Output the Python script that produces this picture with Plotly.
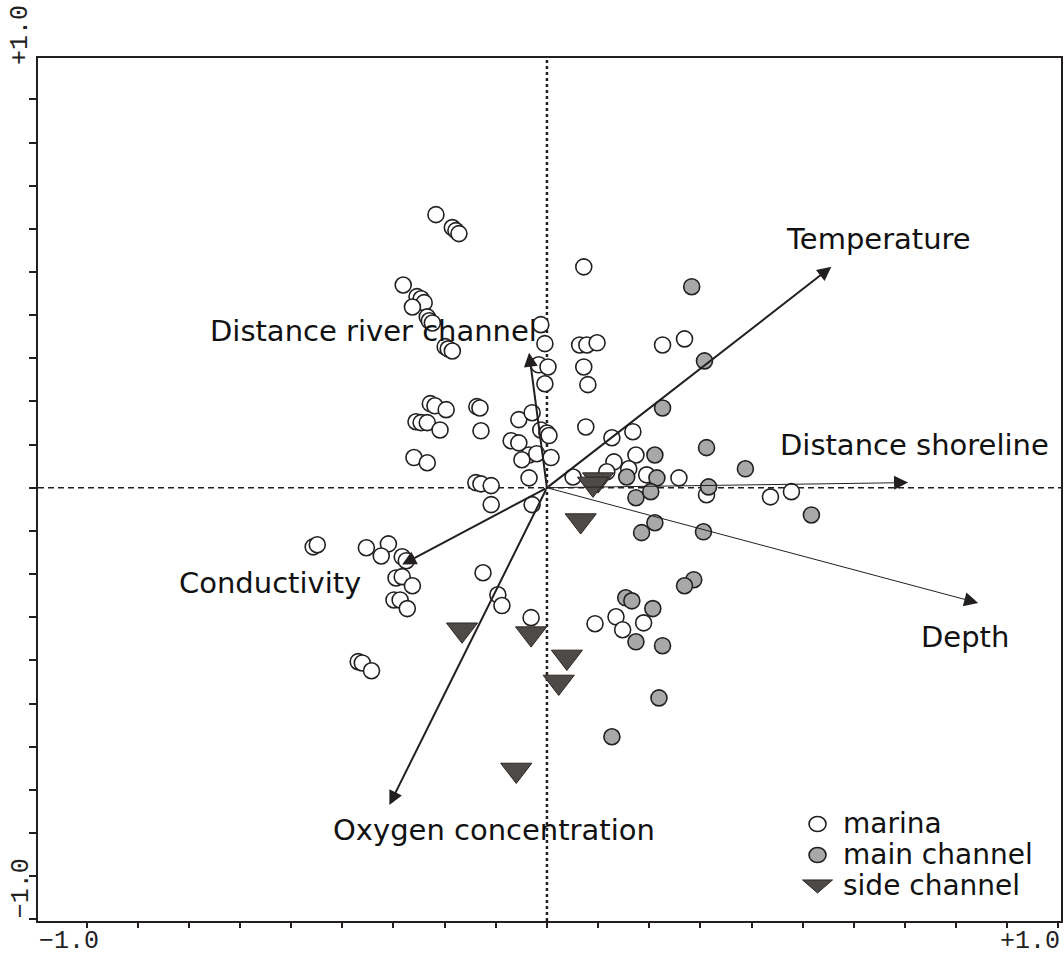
import plotly.graph_objects as go

# ---------------- data (ordination scores) ----------------
marina_x = [-0.217, -0.185, -0.178, -0.172, -0.281, -0.254, -0.246, -0.240, -0.263, -0.234,
            -0.230, -0.224, -0.199, -0.193, -0.185, -0.012, -0.004, -0.016, 0.002, -0.004,
            0.072, 0.064, 0.078, 0.098, 0.226, 0.269, 0.072, 0.080, -0.228, -0.219,
            -0.197, -0.256, -0.246, -0.234, -0.209, -0.137, -0.131, -0.129, -0.260, -0.234,
            -0.055, -0.029, -0.012, 0.000, 0.004, -0.070, -0.055, -0.035, -0.020, 0.008,
            -0.049, 0.076, 0.127, 0.168, 0.174, 0.131, 0.160, 0.117, 0.051, -0.035,
            -0.139, -0.129, -0.109, -0.109, -0.029, 0.195, 0.258, 0.312, 0.437, 0.478,
            0.135, 0.094, 0.148, 0.189, -0.457, -0.449, -0.353, -0.310, -0.324, -0.283,
            -0.275, -0.295, -0.283, -0.263, -0.299, -0.287, -0.273, -0.125, -0.096, -0.088,
            -0.031, -0.369, -0.361, -0.343]
marina_y = [0.633, 0.603, 0.596, 0.589, 0.470, 0.443, 0.438, 0.429, 0.419, 0.396,
            0.387, 0.382, 0.327, 0.322, 0.317, 0.378, 0.334, 0.285, 0.280, 0.241,
            0.512, 0.331, 0.331, 0.336, 0.331, 0.345, 0.280, 0.239, 0.195, 0.190,
            0.181, 0.153, 0.151, 0.151, 0.134, 0.188, 0.185, 0.132, 0.070, 0.058,
            0.158, 0.174, 0.134, 0.127, 0.121, 0.109, 0.104, 0.076, 0.079, 0.070,
            0.065, 0.141, 0.116, 0.130, 0.076, 0.060, 0.044, 0.037, 0.025, 0.023,
            0.012, 0.009, 0.005, -0.039, -0.039, 0.030, 0.023, -0.016, -0.021, -0.009,
            -0.299, -0.315, -0.329, -0.313, -0.137, -0.132, -0.139, -0.130, -0.158, -0.160,
            -0.169, -0.209, -0.206, -0.227, -0.260, -0.260, -0.280, -0.197, -0.248, -0.273,
            -0.301, -0.403, -0.406, -0.424]

main_x = [0.283, 0.308, 0.226, 0.312, 0.211, 0.388, 0.156, 0.215, 0.316, 0.174,
          0.203, 0.517, 0.211, 0.185, 0.306, 0.287, 0.269, 0.154, 0.166, 0.207,
          0.174, 0.226, 0.219, 0.127]
main_y = [0.466, 0.294, 0.185, 0.093, 0.076, 0.044, 0.025, 0.023, 0.002, -0.023,
          -0.009, -0.063, -0.081, -0.104, -0.102, -0.213, -0.227, -0.255, -0.262, -0.280,
          -0.357, -0.366, -0.487, -0.577]

side_x = [0.100, 0.090, 0.066, -0.166, -0.031, 0.039, 0.023, -0.060]
side_y = [0.019, 0.009, -0.076, -0.329, -0.338, -0.392, -0.450, -0.654]

# environmental variables (arrow tips)
env_names = ["Temperature", "Distance shoreline", "Depth", "Oxygen concentration",
             "Conductivity", "Distance river channel"]
env_x = [0.556, 0.706, 0.843, -0.308, -0.283, -0.035]
env_y = [0.512, 0.012, -0.267, -0.735, -0.178, 0.313]
env_width = [2, 1, 1, 2, 2, 2]
# label anchor positions
lab_x = [0.648, 0.718, 0.818, -0.103, -0.542, -0.340]
lab_y = [0.577, 0.100, -0.345, -0.793, -0.220, 0.364]

group_names = ["marina", "main channel", "side channel"]
axis_end_labels = ["\u22121.0", "+1.0"]

INK = "#231f20"
WHITE_FILL = "white"
GREY_FILL = "#a8a8a8"
DARK_FILL = "#4d4a48"

fig = go.Figure()
fig.add_trace(go.Scatter(x=marina_x, y=marina_y, mode="markers", name=group_names[0],
                         showlegend=False,
                         marker=dict(symbol="circle", size=16, color=WHITE_FILL,
                                     line=dict(color=INK, width=1.6))))
fig.add_trace(go.Scatter(x=main_x, y=main_y, mode="markers", name=group_names[1],
                         showlegend=False,
                         marker=dict(symbol="circle", size=16, color=GREY_FILL,
                                     line=dict(color=INK, width=1.6))))
fig.add_trace(go.Scatter(x=side_x, y=side_y, mode="markers", name=group_names[2],
                         showlegend=False,
                         marker=dict(symbol="triangle-down", size=27, color=DARK_FILL,
                                     line=dict(color="#2a2725", width=1))))

# zero lines
fig.add_shape(type="line", xref="x", yref="paper", x0=0, x1=0, y0=0, y1=1,
              line=dict(color=INK, width=2.5, dash="dot"), layer="below")
fig.add_shape(type="line", xref="paper", yref="y", x0=0, x1=1, y0=0, y1=0,
              line=dict(color=INK, width=1.5, dash="6px,4px"), layer="below")

anns = []
for nm, tx, ty, w, lx, ly in zip(env_names, env_x, env_y, env_width, lab_x, lab_y):
    anns.append(dict(x=tx, y=ty, ax=0, ay=0, xref="x", yref="y", axref="x", ayref="y",
                     text="", showarrow=True, arrowhead=2, arrowwidth=w,
                     arrowsize=2.8 / w, arrowcolor=INK, standoff=0, startstandoff=0))
    anns.append(dict(x=lx, y=ly, xref="x", yref="y", text=nm, showarrow=False,
                     font=dict(family="DejaVu Sans", size=29, color="#111111")))

tick_font = dict(family="Liberation Mono", size=25, color="#222222")
side_font = dict(family="Liberation Mono", size=25, color="#222222")
anns += [
    dict(x=0, y=-0.024, xref="paper", yref="paper", text=axis_end_labels[0], showarrow=False,
         xanchor="left", yanchor="middle", font=tick_font, borderpad=0),
    dict(x=1, y=-0.024, xref="paper", yref="paper", text=axis_end_labels[1], showarrow=False,
         xanchor="right", yanchor="middle", font=tick_font, borderpad=0),
    dict(x=-0.0165, y=1.0267, xref="paper", yref="paper", text=axis_end_labels[1], showarrow=False,
         textangle=-90, xanchor="center", yanchor="middle", font=side_font, borderpad=0),
    dict(x=-0.0165, y=0.0382, xref="paper", yref="paper", text=axis_end_labels[0], showarrow=False,
         textangle=-90, xanchor="center", yanchor="middle", font=side_font, borderpad=0),
]

# legend (keys drawn in pixel size around paper anchors)
leg_sym_x = 0.762
leg_txt_x = 0.785
leg_rows_y = [0.1124, 0.0765, 0.0406]
for name, yy in zip(group_names, leg_rows_y):
    anns.append(dict(x=leg_txt_x, y=yy, xref="paper", yref="paper", text=name,
                     showarrow=False, xanchor="left", yanchor="middle",
                     font=dict(family="DejaVu Sans", size=28, color="#111111")))
fig.add_shape(type="circle", xref="paper", yref="paper", xsizemode="pixel", ysizemode="pixel",
              xanchor=leg_sym_x, yanchor=leg_rows_y[0], x0=-8.5, x1=8.5, y0=-7.5, y1=7.5,
              fillcolor=WHITE_FILL, line=dict(color=INK, width=1.6))
fig.add_shape(type="circle", xref="paper", yref="paper", xsizemode="pixel", ysizemode="pixel",
              xanchor=leg_sym_x, yanchor=leg_rows_y[1], x0=-8.5, x1=8.5, y0=-7.5, y1=7.5,
              fillcolor=GREY_FILL, line=dict(color=INK, width=1.6))
fig.add_shape(type="path", xref="paper", yref="paper", xsizemode="pixel", ysizemode="pixel",
              xanchor=leg_sym_x, yanchor=leg_rows_y[2],
              path="M-15,6 L15,6 L0,-7 Z",
              fillcolor=DARK_FILL, line=dict(color="#2a2725", width=1))

ticks = [round(i * 0.1, 1) for i in range(-10, 11)]

fig.update_layout(
    width=1064, height=958,
    margin=dict(l=38, r=1, t=58, b=37),
    paper_bgcolor="white", plot_bgcolor="white",
    annotations=anns,
    showlegend=False,
    xaxis=dict(range=[-0.995, 1.005], showgrid=False, zeroline=False, showline=True,
               linecolor=INK, linewidth=2, mirror=True, ticks="outside", ticklen=5,
               tickwidth=1.5, tickcolor=INK, tickvals=ticks, showticklabels=False),
    yaxis=dict(range=[-1.004, 0.996], showgrid=False, zeroline=False, showline=True,
               linecolor=INK, linewidth=2, mirror=True, ticks="outside", ticklen=7,
               tickwidth=1.5, tickcolor=INK, tickvals=ticks, showticklabels=False),
)

# remove the browser's default page margin so the 1064x958 figure fills the window exactly
fig.write_html("out.html", config={"displayModeBar": False},
               post_script="document.body.style.margin='0px';document.body.style.overflow='hidden';")
